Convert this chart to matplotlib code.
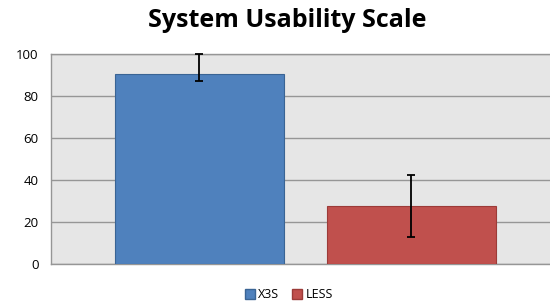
import matplotlib.pyplot as plt
import matplotlib.patches as mpatches

series = ["X3S", "LESS"]
values = [90.5, 27.8]
err_low = [3.2, 14.9]
err_high = [9.5, 14.6]
colors = ["#4f81bd", "#c0504d"]
edges = ["#3a6494", "#9c3b38"]
yticks = [0, 20, 40, 60, 80, 100]

fig = plt.figure(figsize=(5.5, 3.04), dpi=100)
ax = fig.add_axes([0.0927, 0.1316, 0.925, 0.6908])
ax.set_facecolor("#e6e6e6")

pos = list(range(len(series)))
ax.bar(pos, values, width=0.8, color=colors, edgecolor=edges, linewidth=0.8, zorder=3)
eb = ax.errorbar(pos, values, yerr=[err_low, err_high], fmt="none", ecolor="black",
                 elinewidth=1.3, capsize=2.8, capthick=1.3, zorder=4)
for part in eb.lines[1] + eb.lines[2]:
    part.set_clip_on(False)

ax.set_xlim(-0.70, 1.70)
ax.set_ylim(0, 100)
ax.set_yticks(yticks)
ax.set_yticklabels([str(t) for t in yticks], fontsize=9.5, family="Open Sans")
ax.set_xticks([])
ax.tick_params(axis="y", length=0, pad=9)
ax.grid(axis="y", color="#969696", linewidth=1.0, zorder=1)
for s in ax.spines.values():
    s.set_color("#969696")
    s.set_linewidth(1.0)

fig.text(0.523, 0.932, "System Usability Scale", ha="center", va="center",
         fontsize=18, fontweight="bold", family="Open Sans")

handles = [mpatches.Patch(facecolor=c, edgecolor=e, label=l) for c, e, l in zip(colors, edges, series)]
fig.legend(handles=handles, loc="center", bbox_to_anchor=(0.525, 0.03), ncol=2, frameon=False,
           prop={"family": "Open Sans", "size": 9}, handlelength=0.8, handleheight=0.8,
           handletextpad=0.3, columnspacing=1.0)

plt.savefig("out.png", format="png")
